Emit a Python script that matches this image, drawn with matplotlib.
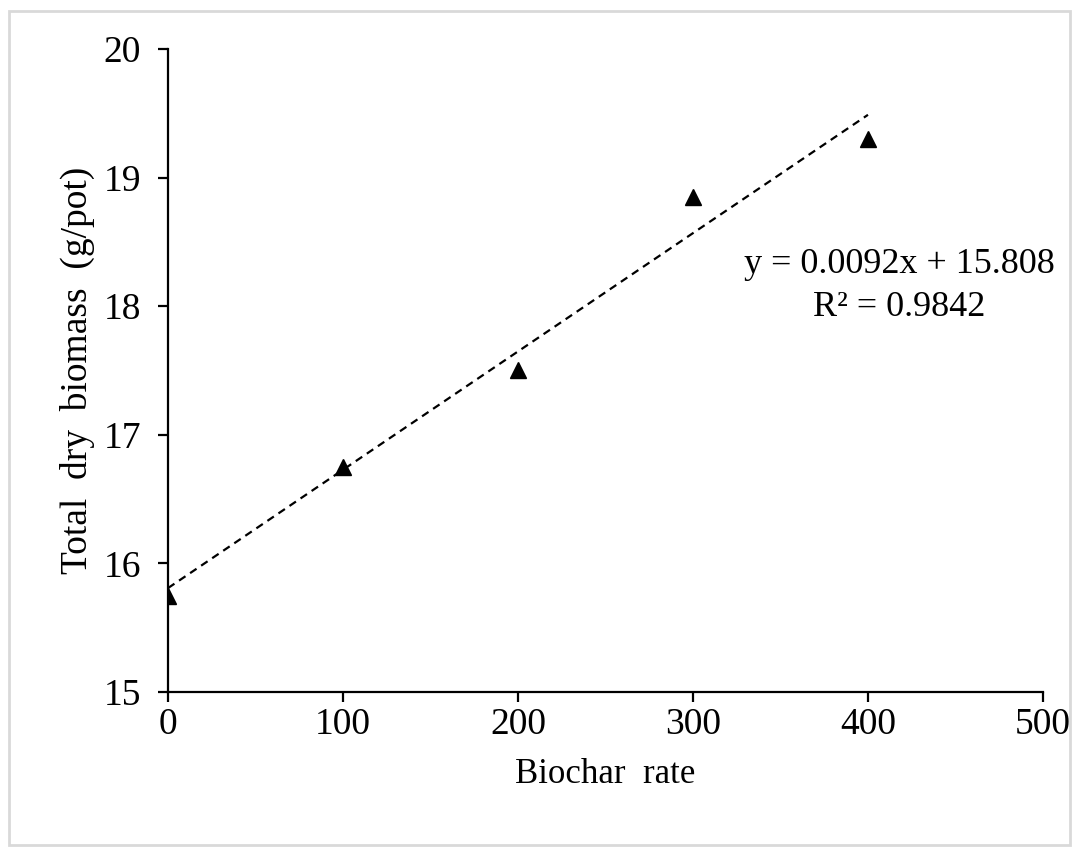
import numpy as np
import matplotlib.pyplot as plt
from matplotlib.patches import Rectangle

plt.rcParams['font.family'] = ['Liberation Serif', 'DejaVu Serif']

# data
biochar_rate = [0, 100, 200, 300, 400]
biomass = [15.75, 16.75, 17.5, 18.85, 19.3]
slope = 0.0092
intercept = 15.808
r2 = 0.9842

fig = plt.figure(figsize=(10.79, 8.56), dpi=100)
ax = fig.add_axes([0.1557, 0.1916, 0.8109, 0.7512])

# trendline
xt = np.array([0, 400])
ax.plot(xt, slope * xt + intercept, color='black', lw=1.6, ls=(0, (3.5, 2.5)))
ax.plot(biochar_rate, biomass, ls='none', marker='^', color='black', ms=12)

ax.set_xlim(0, 500)
ax.set_ylim(15, 20)
ax.set_xticks([0, 100, 200, 300, 400, 500])
ax.set_yticks([15, 16, 17, 18, 19, 20])
for s in ['top', 'right']:
    ax.spines[s].set_visible(False)
for s in ['left', 'bottom']:
    ax.spines[s].set_linewidth(1.6)
ax.tick_params(direction='out', length=7.5, width=1.6, labelsize=27)
ax.tick_params(axis='y', pad=12)
ax.tick_params(axis='x', pad=4)

ax.set_xlabel('Biochar  rate', fontsize=25, labelpad=11)
ax.set_ylabel('Total  dry  biomass  (g/pot)', fontsize=27, labelpad=6)

ax.text(0.836, 0.632, f'y = {slope}x + {intercept}\nR² = {r2}', transform=ax.transAxes,
        ha='center', va='center', fontsize=26, linespacing=1.4)

fig.patches.append(Rectangle((9 / 1079, 11 / 856), 1061 / 1079, 834 / 856, transform=fig.transFigure,
                             fill=False, edgecolor='#d9d9d9', lw=2))

fig.savefig('out.png', dpi=100)
